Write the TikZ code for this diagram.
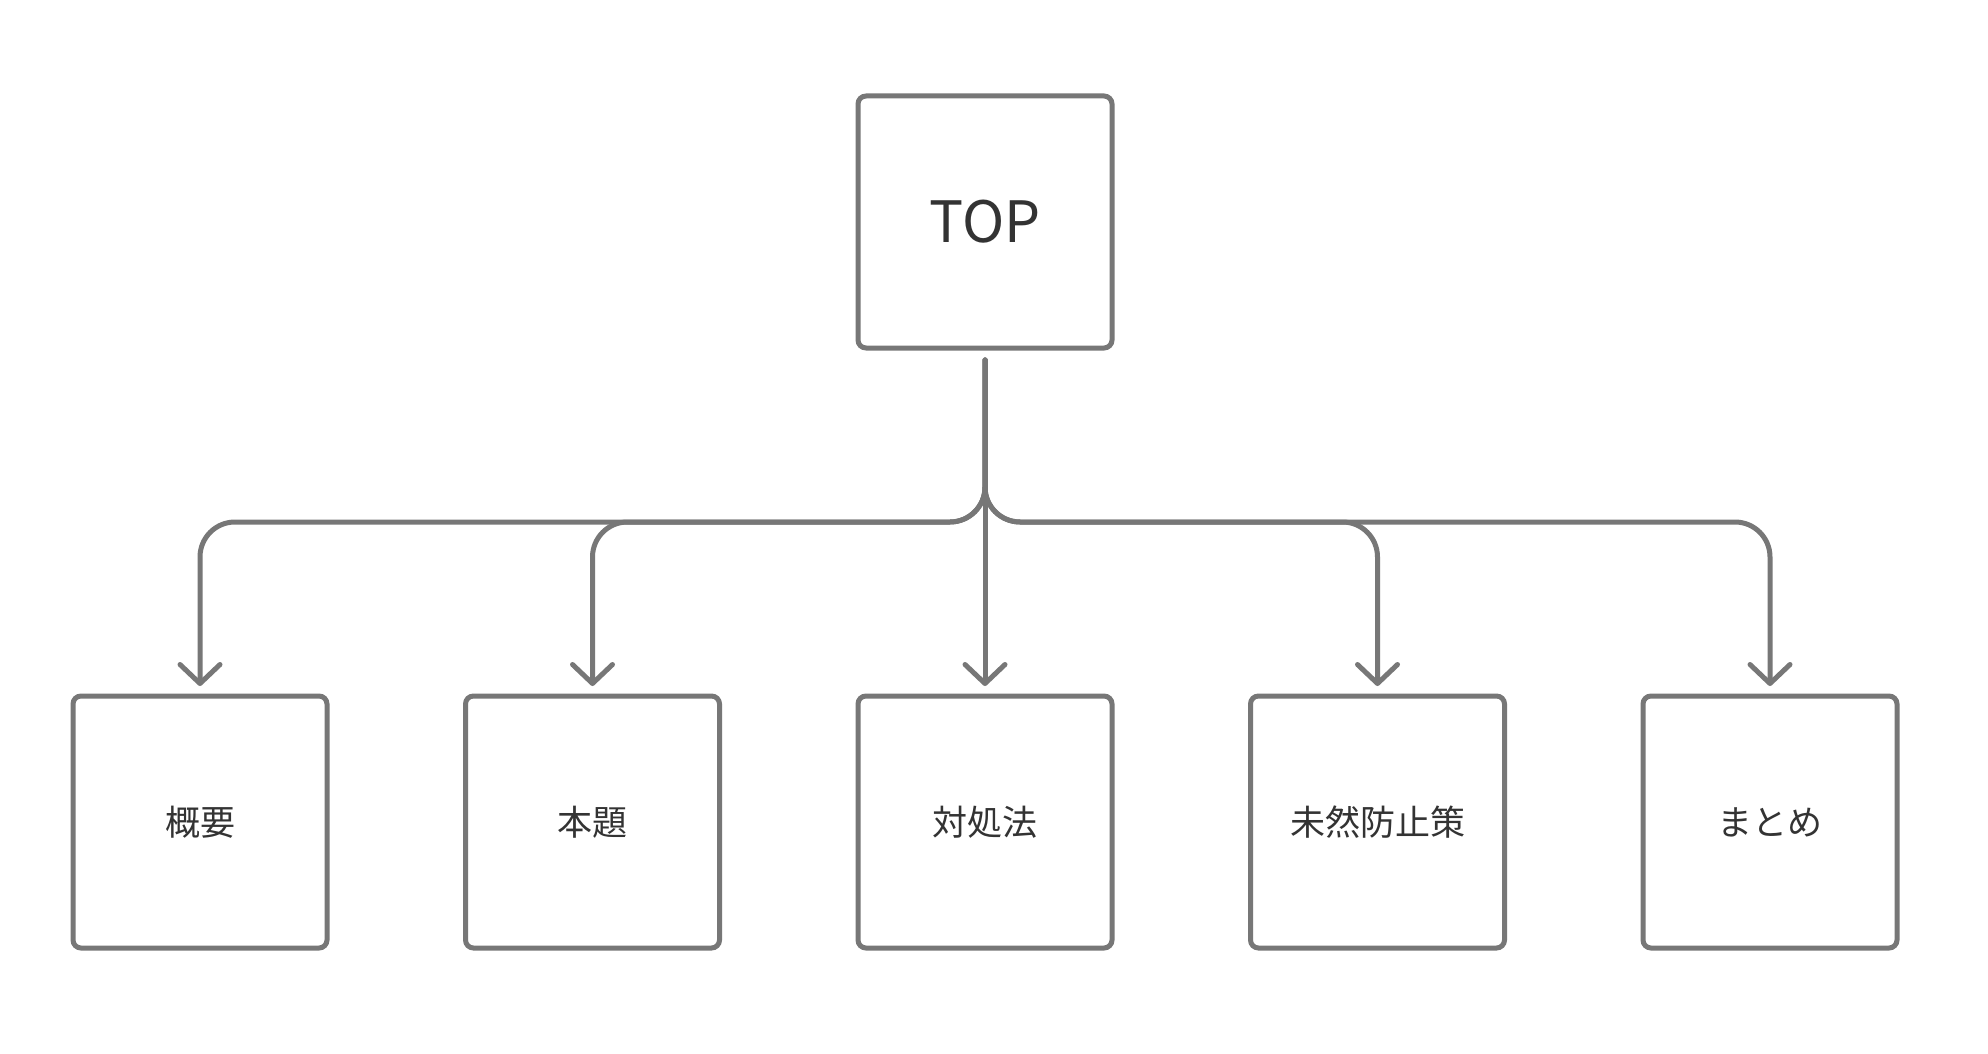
\documentclass[tikz,border=0pt]{standalone}
\usepackage{fontspec}
\newfontfamily\jpfont{Noto Sans CJK JP}
\usetikzlibrary{arrows.meta}
\definecolor{linegray}{HTML}{777777}
\definecolor{textgray}{HTML}{333333}
\tikzset{
  box/.style={draw=linegray, line width=2.5pt, rounded corners=4pt, fill=white,
    minimum width=127pt, minimum height=126pt, outer sep=0pt, inner sep=0pt,
    text=textgray, font=\jpfont\fontsize{17.5pt}{20pt}\selectfont},
  topbox/.style={box, font=\jpfont\fontsize{28.5pt}{32pt}\selectfont},
  conn/.style={draw=linegray, line width=2.5pt, line cap=round, rounded corners=17.5pt,
    -{Straight Barb[length=9.5pt,width=20pt,round]}},
}
\begin{document}
\begin{tikzpicture}[x=0.5pt,y=-0.5pt]
\useasboundingbox[fill=white] (0,0) rectangle (1988,1054);
\node[topbox] (top) at (985,222) {TOP};
\node[box] (b1) at (200,822) {概要};
\node[box] (b2) at (592.5,822) {本題};
\node[box] (b3) at (985,822) {対処法};
\node[box] (b4) at (1377.5,822) {未然防止策};
\node[box] (b5) at (1770,822) {まとめ};
\coordinate (j) at (985,522);
\foreach \b in {b1,b2,b4,b5}{
  \draw[conn] ([yshift=-6pt]top.south) |- (\b.north |- j) -- ([yshift=5pt]\b.north);
}
\draw[conn] ([yshift=-6pt]top.south) -- ([yshift=5pt]b3.north);
\end{tikzpicture}
\end{document}
